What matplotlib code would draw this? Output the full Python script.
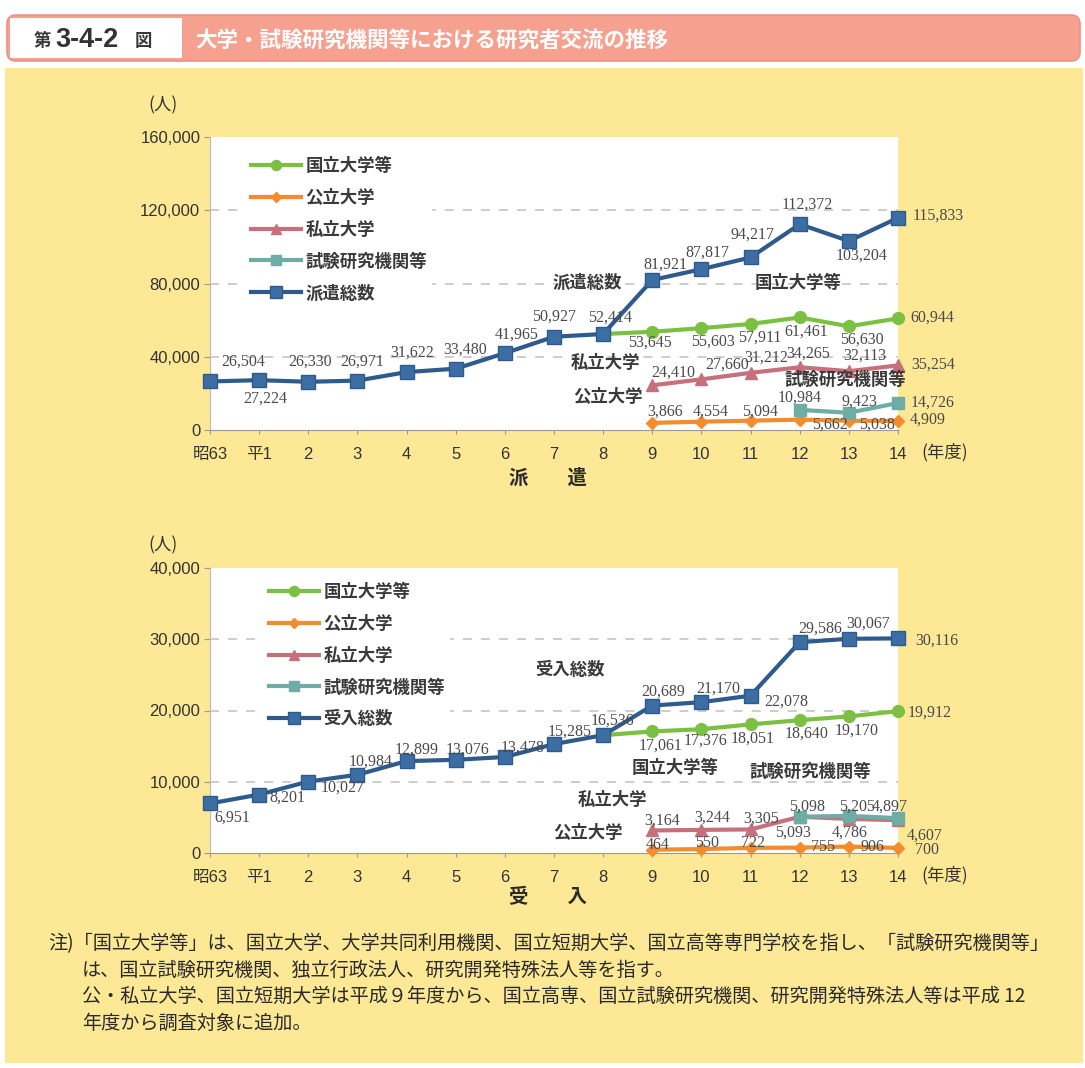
import numpy as np
import matplotlib
matplotlib.use("Agg")
import matplotlib.pyplot as plt
from matplotlib.patches import FancyBboxPatch, Rectangle
from matplotlib.lines import Line2D

plt.rcParams['font.family'] = ['Liberation Sans', 'Noto Sans CJK JP', 'DejaVu Sans']

W, H = 1085, 1068

# ---------------- data ----------------
years = ['昭63', '平1', '2', '3', '4', '5', '6', '7', '8', '9', '10', '11', '12', '13', '14']
series_names = ['国立大学等', '公立大学', '私立大学', '試験研究機関等']

# 派遣 (researchers sent)
haken_total = [26504, 27224, 26330, 26971, 31622, 33480, 41965, 50927, 52414,
               81921, 87817, 94217, 112372, 103204, 115833]
haken_national = [None] * 8 + [52414, 53645, 55603, 57911, 61461, 56630, 60944]
haken_public = [None] * 9 + [3866, 4554, 5094, 5662, 5038, 4909]
haken_private = [None] * 9 + [24410, 27660, 31212, 34265, 32113, 35254]
haken_institutes = [None] * 12 + [10984, 9423, 14726]

# 受入 (researchers received)
ukeire_total = [6951, 8201, 10027, 10984, 12899, 13076, 13478, 15285, 16536,
                20689, 21170, 22078, 29586, 30067, 30116]
ukeire_national = [None] * 8 + [16536, 17061, 17376, 18051, 18640, 19170, 19912]
ukeire_public = [None] * 9 + [464, 550, 722, 755, 906, 700]
ukeire_private = [None] * 9 + [3164, 3244, 3305, 5093, 4786, 4607]
ukeire_institutes = [None] * 12 + [5098, 5205, 4897]

# ---------------- styles ----------------
C_GREEN = '#7CC043'
C_ORANGE = '#F28C2E'
C_PINK = '#C6707C'
C_TEAL = '#6DADA6'
C_BLUE = '#2E5B8B'
C_BLUE_FACE = '#3C6DA3'
YELLOW = '#FCE895'
SALMON = '#F6A190'
TXT = '#333333'
LBL = '#4a4a4a'

styles = {
    'national': dict(color=C_GREEN, marker='o', ms=8.5, mfc=C_GREEN, mec=C_GREEN),
    'public': dict(color=C_ORANGE, marker='D', ms=6.5, mfc=C_ORANGE, mec=C_ORANGE),
    'private': dict(color=C_PINK, marker='^', ms=9, mfc=C_PINK, mec=C_PINK),
    'institutes': dict(color=C_TEAL, marker='s', ms=9, mfc=C_TEAL, mec=C_TEAL),
    'total': dict(color=C_BLUE, marker='s', ms=9.5, mfc=C_BLUE_FACE, mec=C_BLUE),
}

# label offsets in pixels (dx, dy downwards) for each labelled point
haken_offsets = {
    'total': [(33, -20), (6, 18), (2, -20), (5, -19), (6, -19), (9, -19), (12, -19), (0, -20),
              (7, -16), (13, -15), (6, -17), (2, -23), (8, -20), (13, 15), (40, -2)],
    'national': [None, (-2, 11), (12, 13), (9, 14), (7, 14), (13, 13), (34, -1)],
    'private': [(21, -13), (26, -15), (16, -15), (8, -14), (16, -16), (35, -1)],
    'public': [(13, -11), (9, -10), (9, -9), (30, 5), (28, 4), (30, -1)],
    'institutes': [(0, -12), (11, -11), (35, 0)],
}
ukeire_offsets = {
    'total': [(22, 14), (28, 3), (34, 6), (13, -13), (10, -11), (12, -10), (18, -9), (16, -12),
              (9, -15), (11, -14), (17, -14), (36, 6), (20, -14), (19, -15), (39, 2)],
    'national': [None, (8, 14), (4, 11), (2, 14), (7, 13), (8, 14), (32, 2)],
    'private': [(10, -10), (11, -12), (11, -11), (-7, 16), (1, 14), (27, 15)],
    'public': [(5, -5), (6, -6), (2, -5), (23, -1), (24, 0), (29, 2)],
    'institutes': [(7, -10), (8, -9), (-8, -11)],
}

fig = plt.figure(figsize=(W / 100, H / 100), dpi=100)
fig.patch.set_facecolor('white')

# background canvas in pixel units
bg = fig.add_axes([0, 0, 1, 1], zorder=0)
bg.set_xlim(0, W)
bg.set_ylim(H, 0)
bg.axis('off')

bg.add_patch(FancyBboxPatch((7, 15), 1073, 46, boxstyle='round,pad=0,rounding_size=9',
                            fc=SALMON, ec='#EE9184', lw=1.2))
bg.add_patch(Rectangle((10, 18), 172, 40, fc='white', ec='none'))
bg.add_patch(Rectangle((5, 68), 1078, 995, fc=YELLOW, ec='none'))

bg.text(34, 41, '第', fontsize=12.5, fontweight='bold', color='#3a3a3a',
        family=['Noto Sans CJK JP'], ha='left', va='center')
bg.text(55, 40, '3-4-2', fontsize=19.5, fontweight='bold', color='#333333',
        ha='left', va='center')
bg.text(135, 41, '図', fontsize=12.5, fontweight='bold', color='#3a3a3a',
        family=['Noto Sans CJK JP'], ha='left', va='center')
bg.text(195, 40, '大学・試験研究機関等における研究者交流の推移', fontsize=15.5,
        fontweight='bold', color='white', family=['Noto Sans CJK JP'],
        ha='left', va='center')

notes = [
    (48, 944, '注)「国立大学等」は、国立大学、大学共同利用機関、国立短期大学、国立高等専門学校を指し、「試験研究機関等」'),
    (82, 970, 'は、国立試験研究機関、独立行政法人、研究開発特殊法人等を指す。'),
    (82, 996, '公・私立大学、国立短期大学は平成９年度から、国立高専、国立試験研究機関、研究開発特殊法人等は平成 12'),
    (82, 1023, '年度から調査対象に追加。'),
]
for nx, ny, s in notes:
    bg.text(nx, ny, s, fontsize=13.8, color='#2a2a2a', family=['Noto Sans CJK JP', 'DejaVu Sans'],
            ha='left', va='center')


def draw_panel(top_px, bottom_px, total, national, public, private, institutes,
               ymax, yticks, offsets, total_name, inline, legend_xy, unit_y, title, title_y):
    ax = fig.add_axes([210 / W, 1 - bottom_px / H, 688 / W, (bottom_px - top_px) / H], zorder=2)
    ax.set_facecolor('white')
    x = np.arange(len(years))
    data = {
        'national': national, 'public': public, 'private': private,
        'institutes': institutes, 'total': total,
    }
    names = {'national': '国立大学等', 'public': '公立大学', 'private': '私立大学',
             'institutes': '試験研究機関等', 'total': total_name}
    handles = []
    for z, key in enumerate(['national', 'public', 'private', 'institutes', 'total']):
        vals = np.array([np.nan if v is None else v for v in data[key]], dtype=float)
        st = styles[key]
        ax.plot(x, vals, color=st['color'], lw=3, marker=st['marker'], ms=st['ms'],
                mfc=st['mfc'], mec=st['mec'], mew=1, zorder=3 + z, clip_on=False)
        handles.append(Line2D([], [], color=st['color'], lw=3, marker=st['marker'],
                              ms=st['ms'] * 0.85, mfc=st['mfc'], mec=st['mec'],
                              label=names[key]))
        # value labels
        idx = [i for i, v in enumerate(data[key]) if v is not None]
        for i, off in zip(idx, offsets[key]):
            if off is None:
                continue
            v = data[key][i]
            ax.annotate(f'{v:,}', (i, v), xytext=(off[0], -off[1]), textcoords='offset pixels',
                        ha='center', va='center', fontsize=11.5, color=LBL,
                        family=['Liberation Serif'], zorder=20, annotation_clip=False)

    for tx, ty, s in inline:
        ax.text(tx, ty, s, fontsize=12.5, fontweight='bold', color='#3a3a3a',
                family=['Noto Sans CJK JP'], ha='center', va='center', zorder=19)

    ax.set_xlim(0, len(years) - 1)
    ax.set_ylim(0, ymax)
    ax.set_xticks(x)
    ax.set_xticklabels(years)
    ax.set_yticks(yticks)
    ax.set_yticklabels([f'{t:,}' for t in yticks])
    ax.tick_params(axis='y', labelsize=12, colors='#999999', labelcolor=TXT, length=4, pad=3)
    ax.tick_params(axis='x', labelsize=12, colors='#999999', labelcolor=TXT, length=3, pad=9)
    for t in yticks[1:-1]:
        ax.axhline(t, color='#c9c9c9', lw=1.3, ls=(0, (5, 5)), zorder=1)
    for s in ['top', 'right']:
        ax.spines[s].set_visible(False)
    ax.spines['left'].set_color('#bbbbbb')
    ax.spines['bottom'].set_color('#999999')

    leg = ax.legend(handles=handles, loc='upper left',
                    bbox_to_anchor=(legend_xy[0] / W, 1 - legend_xy[1] / H),
                    bbox_transform=fig.transFigure, frameon=True, fancybox=False,
                    framealpha=1, facecolor='white', edgecolor='none',
                    prop={'family': ['Noto Sans CJK JP'], 'size': 12.5, 'weight': 'bold'},
                    handlelength=2.9, handletextpad=0.25, labelspacing=0.8,
                    borderpad=0.3)
    for t in leg.get_texts():
        t.set_color('#3a3a3a')
    leg.set_zorder(15)

    bg.text(163, unit_y, '(人)', fontsize=12.5, color=TXT, family=['Noto Sans CJK JP'],
            ha='center', va='center')
    bg.text(945, bottom_px + 22, '(年度)', fontsize=12.5, color=TXT,
            family=['Noto Sans CJK JP'], ha='center', va='center')
    bg.text(548, title_y, title, fontsize=14, fontweight='bold', color='#2a2a2a',
            family=['Noto Sans CJK JP'], ha='center', va='center')
    return ax


draw_panel(137, 430, haken_total, haken_national, haken_public, haken_private, haken_institutes,
           160000, [0, 40000, 80000, 120000, 160000], haken_offsets, '派遣総数',
           [(7.67, 80500, '派遣総数'), (11.97, 80500, '国立大学等'), (8.04, 36700, '私立大学'),
            (8.10, 18100, '公立大学'), (12.92, 27400, '試験研究機関等')],
           (237, 143), 105, '派　　遣', 478)

draw_panel(568, 853, ukeire_total, ukeire_national, ukeire_public, ukeire_private, ukeire_institutes,
           40000, [0, 10000, 20000, 30000, 40000], ukeire_offsets, '受入総数',
           [(7.33, 25680, '受入総数'), (9.46, 11930, '国立大学等'), (12.21, 11370, '試験研究機関等'),
            (8.18, 7440, '私立大学'), (7.69, 2810, '公立大学')],
           (255, 569), 545, '受　　入', 898)

fig.savefig('out.png', dpi=100, facecolor='white')
